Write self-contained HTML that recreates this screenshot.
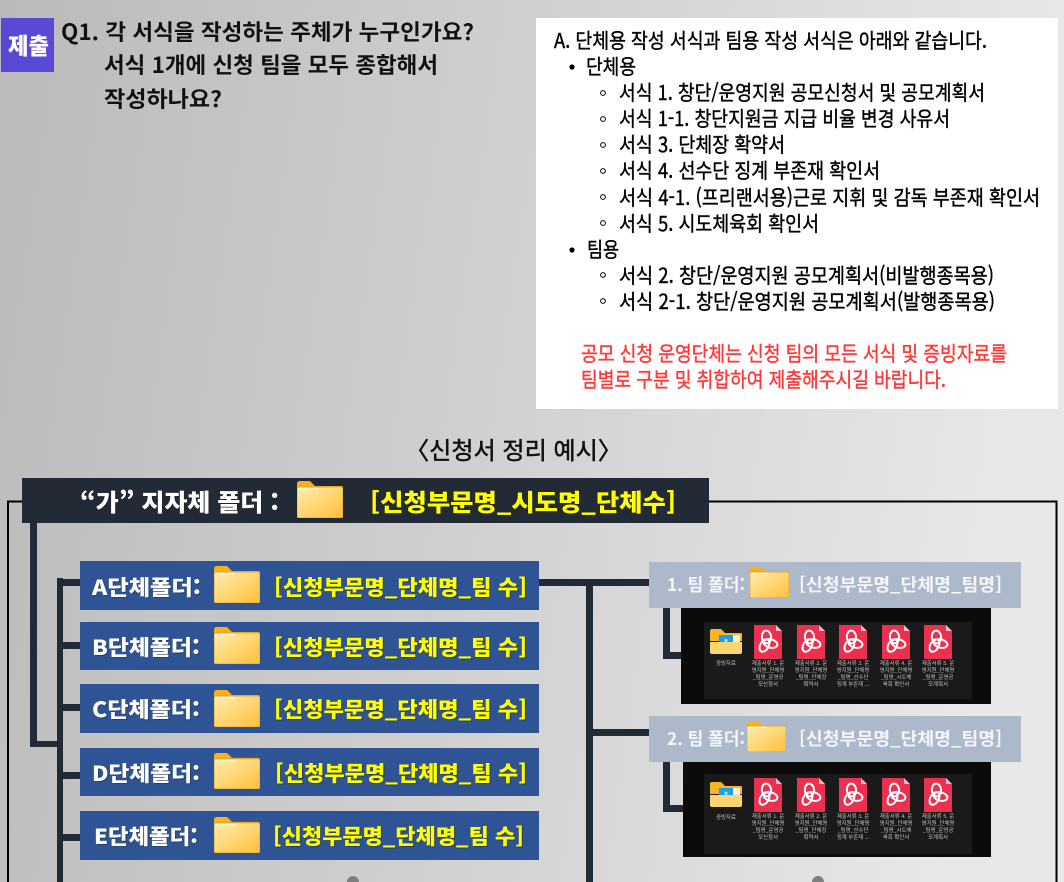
<!DOCTYPE html>
<html lang="ko"><head><meta charset="utf-8"><title>신청서 정리 예시</title>
<style>
html,body{margin:0;padding:0;width:1064px;height:882px;overflow:hidden;background:#ccc}
svg{display:block;position:absolute;left:0;top:0}
text{font-family:"Liberation Sans","Noto Sans CJK KR",sans-serif}
.q{font-size:22px;font-weight:700;fill:#111;font-family:"Noto Sans CJK KR","Liberation Sans",sans-serif}
.a{font-size:20.5px;fill:#000;stroke:#000;stroke-width:.4px;font-family:"Noto Sans CJK KR","Liberation Sans",sans-serif}
.r{font-size:20.5px;fill:#ff3838;stroke:#ff3838;stroke-width:.4px;font-family:"Noto Sans CJK KR","Liberation Sans",sans-serif}
.y{font-weight:900;fill:#ffff00;filter:drop-shadow(1px 1px 0 rgba(30,30,30,.45));font-family:"Noto Sans CJK KR","Liberation Sans",sans-serif}
.w{font-weight:900;fill:#fff;filter:drop-shadow(1px 1px 0 rgba(30,30,30,.35));font-family:"Noto Sans CJK KR","Liberation Sans",sans-serif}
.t{font-size:17.5px;font-weight:700;fill:#f4f6fa;font-family:"Noto Sans CJK KR","Liberation Sans",sans-serif}
.f{font-size:5.4px;fill:#c4c4c4;text-anchor:middle;font-family:"Noto Sans CJK KR","Liberation Sans",sans-serif}
</style></head><body>
<svg width="1064" height="882" viewBox="0 0 1064 882" xmlns="http://www.w3.org/2000/svg">
<defs>
<linearGradient id="bg" x1="0" y1="0" x2="1" y2="0.12"><stop offset="0" stop-color="#bababa"/><stop offset=".5" stop-color="#d0d0d0"/><stop offset="1" stop-color="#e8e8e8"/></linearGradient>
<linearGradient id="ff" x1="0" y1="0" x2="1" y2="1"><stop offset="0" stop-color="#ffeeb0"/><stop offset="1" stop-color="#fdbf38"/></linearGradient>
<symbol id="folder" viewBox="0 0 46 37" preserveAspectRatio="none">
<path d="M0 3Q0 0 3 0H13L18 5H44Q46 5 46 7V12H0Z" fill="#fbb116"/>
<rect x="0" y="6" width="46" height="31" rx="2" fill="url(#ff)" stroke="#dc9a2c" stroke-width=".8"/>
<rect x="1" y="7" width="20" height="1.4" fill="#fff7da"/>
</symbol>
<symbol id="sf" viewBox="0 0 32 25" preserveAspectRatio="none">
<path d="M0 2Q0 0 2 0H11L15 4H31Q32 4 32 5V12H0Z" fill="#f6b42a"/>
<rect x="9" y="6" width="21" height="8" fill="#fff3cf"/>
<rect x="9" y="6" width="14" height="11" fill="#18a0ea"/>
<text x="16" y="13" font-size="5" fill="#cdefff" text-anchor="middle">★</text>
<path d="M0 13H32V23Q32 25 30 25H2Q0 25 0 23Z" fill="#fbd56f"/>
</symbol>
<symbol id="pdf" viewBox="0 0 28 34">
<path d="M0 0H22L28 6V34H0Z" fill="#ec3050"/>
<path d="M22 0L28 6H22Z" fill="#f7b9c4"/>
<g fill="none" stroke="#fff" stroke-width="2">
<ellipse cx="12.5" cy="12" rx="4.6" ry="6.4" transform="rotate(-6 12.5 12)"/>
<ellipse cx="16.5" cy="18.5" rx="7" ry="4.2" transform="rotate(14 16.5 18.5)"/>
<ellipse cx="10.5" cy="20.5" rx="4.2" ry="6.8" transform="rotate(30 10.5 20.5)"/>
</g>
</symbol>
</defs>
<rect width="1064" height="882" fill="url(#bg)"/>

<!-- Header -->
<rect x="1" y="18" width="53" height="54" fill="#5a48d6"/>
<text x="8" y="54" font-size="23" font-weight="900" style="fill:#fff" textLength="41" lengthAdjust="spacingAndGlyphs">제출</text>
<text class="q" x="61" y="40" textLength="413" lengthAdjust="spacingAndGlyphs">Q1. 각 서식을 작성하는 주체가 누구인가요?</text>
<text class="q" x="104" y="73" textLength="334" lengthAdjust="spacingAndGlyphs">서식 1개에 신청 팀을 모두 종합해서</text>
<text class="q" x="104" y="107" textLength="118" lengthAdjust="spacingAndGlyphs">작성하나요?</text>

<!-- Answer box -->
<rect x="536" y="18" width="522" height="391" fill="#fff"/>
<text class="a" x="554" y="48" textLength="433" lengthAdjust="spacingAndGlyphs">A. 단체용 작성 서식과 팀용 작성 서식은 아래와 같습니다.</text>
<circle cx="572" cy="67" r="2.6" fill="#000"/>
<text class="a" x="586" y="74" textLength="50" lengthAdjust="spacingAndGlyphs">단체용</text>
<g fill="none" stroke="#000" stroke-width="1">
<circle cx="603" cy="93" r="2.4"/><circle cx="603" cy="119" r="2.4"/><circle cx="603" cy="145" r="2.4"/><circle cx="603" cy="171" r="2.4"/><circle cx="603" cy="197" r="2.4"/><circle cx="603" cy="223" r="2.4"/><circle cx="603" cy="275" r="2.4"/><circle cx="603" cy="301" r="2.4"/>
</g>
<text class="a" x="619" y="100" textLength="366" lengthAdjust="spacingAndGlyphs">서식 1. 창단/운영지원 공모신청서 및 공모계획서</text>
<text class="a" x="619" y="126" textLength="331" lengthAdjust="spacingAndGlyphs">서식 1-1. 창단지원금 지급 비율 변경 사유서</text>
<text class="a" x="619" y="152" textLength="166" lengthAdjust="spacingAndGlyphs">서식 3. 단체장 확약서</text>
<text class="a" x="619" y="178" textLength="261" lengthAdjust="spacingAndGlyphs">서식 4. 선수단 징계 부존재 확인서</text>
<text class="a" x="619" y="205" textLength="421" lengthAdjust="spacingAndGlyphs">서식 4-1. (프리랜서용)근로 지휘 및 감독 부존재 확인서</text>
<text class="a" x="619" y="231" textLength="200" lengthAdjust="spacingAndGlyphs">서식 5. 시도체육회 확인서</text>
<circle cx="572" cy="250" r="2.6" fill="#000"/>
<text class="a" x="587" y="257" textLength="32" lengthAdjust="spacingAndGlyphs">팀용</text>
<text class="a" x="619" y="283" textLength="375" lengthAdjust="spacingAndGlyphs">서식 2. 창단/운영지원 공모계획서(비발행종목용)</text>
<text class="a" x="619" y="309" textLength="376" lengthAdjust="spacingAndGlyphs">서식 2-1. 창단/운영지원 공모계획서(발행종목용)</text>
<text class="r" x="581" y="361" textLength="426" lengthAdjust="spacingAndGlyphs">공모 신청 운영단체는 신청 팀의 모든 서식 및 증빙자료를</text>
<text class="r" x="581" y="387" textLength="365" lengthAdjust="spacingAndGlyphs">팀별로 구분 및 취합하여 제출해주시길 바랍니다.</text>

<text x="405" y="459" font-size="24" fill="#111" stroke="#111" stroke-width=".5" textLength="217" lengthAdjust="spacingAndGlyphs">〈신청서 정리 예시〉</text>

<!-- Frame -->
<path d="M8 882V501.5H1056.5V882" fill="none" stroke="#000" stroke-width="2"/>

<!-- Connectors -->
<g fill="#222a35">
<rect x="30" y="520" width="7" height="227"/>
<rect x="30" y="741" width="33" height="6"/>
<rect x="57" y="578" width="6" height="304"/>
<rect x="57" y="579" width="25" height="7"/>
<rect x="57" y="642" width="25" height="7"/>
<rect x="57" y="704" width="25" height="7"/>
<rect x="57" y="772" width="25" height="7"/>
<rect x="57" y="834" width="25" height="7"/>
<rect x="539" y="579" width="112" height="7"/>
<rect x="586" y="579" width="7" height="303"/>
<rect x="586" y="729" width="65" height="7"/>
<rect x="663" y="606" width="7" height="53"/>
<rect x="663" y="652" width="20" height="7"/>
<rect x="663" y="760" width="7" height="52"/>
<rect x="663" y="805" width="22" height="7"/>
</g>

<!-- Top bar -->
<rect x="22" y="478" width="687" height="45" fill="#222a35"/>
<text class="w" x="80" y="511" font-size="24" textLength="199" lengthAdjust="spacingAndGlyphs">“가” 지자체 폴더 :</text>
<use href="#folder" x="297" y="481" width="46" height="37"/>
<text class="y" x="370" y="511" font-size="24" textLength="306" lengthAdjust="spacingAndGlyphs">[신청부문명_시도명_단체수]</text>

<!-- Org bars -->
<g fill="#2f5496">
<rect x="80" y="561" width="459" height="49"/>
<rect x="80" y="622" width="459" height="48"/>
<rect x="80" y="684" width="459" height="49"/>
<rect x="80" y="748" width="459" height="48"/>
<rect x="80" y="811" width="459" height="49"/>
</g>
<g font-size="21">
<text class="w" x="92" y="595" textLength="109" lengthAdjust="spacingAndGlyphs">A단체폴더:</text>
<text class="w" x="92" y="655" textLength="108" lengthAdjust="spacingAndGlyphs">B단체폴더:</text>
<text class="w" x="92" y="717" textLength="108" lengthAdjust="spacingAndGlyphs">C단체폴더:</text>
<text class="w" x="92" y="781" textLength="108" lengthAdjust="spacingAndGlyphs">D단체폴더:</text>
<text class="w" x="94" y="844" textLength="104" lengthAdjust="spacingAndGlyphs">E단체폴더:</text>
<text class="y" x="274" y="595" textLength="253" lengthAdjust="spacingAndGlyphs">[신청부문명_단체명_팀 수]</text>
<text class="y" x="274" y="655" textLength="253" lengthAdjust="spacingAndGlyphs">[신청부문명_단체명_팀 수]</text>
<text class="y" x="274" y="717" textLength="253" lengthAdjust="spacingAndGlyphs">[신청부문명_단체명_팀 수]</text>
<text class="y" x="275" y="781" textLength="252" lengthAdjust="spacingAndGlyphs">[신청부문명_단체명_팀 수]</text>
<text class="y" x="273" y="844" textLength="251" lengthAdjust="spacingAndGlyphs">[신청부문명_단체명_팀 수]</text>
</g>
<use href="#folder" x="214" y="566" width="46" height="37"/>
<use href="#folder" x="214" y="627" width="46" height="37"/>
<use href="#folder" x="214" y="690" width="46" height="37"/>
<use href="#folder" x="214" y="753" width="46" height="36"/>
<use href="#folder" x="214" y="817" width="46" height="36"/>

<!-- Team 1 -->
<rect x="681" y="608" width="310" height="96" fill="#0b0b0b"/>
<rect x="704" y="622" width="268" height="77" fill="#1a1a1a"/>
<rect x="649" y="562" width="372" height="46" fill="#adb9ca"/>
<text class="t" x="667" y="591" textLength="78" lengthAdjust="spacingAndGlyphs">1. 팀 폴더:</text>
<use href="#folder" x="750" y="567" width="39" height="31"/>
<text class="t" x="799" y="591" textLength="203" lengthAdjust="spacingAndGlyphs">[신청부문명_단체명_팀명]</text>
<use href="#sf" x="710" y="629" width="32" height="25"/>
<use href="#pdf" x="754" y="625" width="28" height="34"/>
<use href="#pdf" x="797" y="625" width="28" height="34"/>
<use href="#pdf" x="839" y="625" width="28" height="34"/>
<use href="#pdf" x="882" y="625" width="28" height="34"/>
<use href="#pdf" x="924" y="625" width="28" height="34"/>
<g class="f">
<text class="f" x="726" y="665">증빙자료</text>
<text class="f" x="768" y="665">제출서류 1. 운</text><text class="f" x="768" y="672">영지원_단체명</text><text class="f" x="768" y="679">_팀명_운영공</text><text class="f" x="768" y="686">모신청서</text>
<text class="f" x="811" y="665">제출서류 2. 운</text><text class="f" x="811" y="672">영지원_단체명</text><text class="f" x="811" y="679">_팀명_단체장</text><text class="f" x="811" y="686">확약서</text>
<text class="f" x="853" y="665">제출서류 3. 운</text><text class="f" x="853" y="672">영지원_단체명</text><text class="f" x="853" y="679">_팀명_선수단</text><text class="f" x="853" y="686">징계 부존재 ...</text>
<text class="f" x="896" y="665">제출서류 4. 운</text><text class="f" x="896" y="672">영지원_단체명</text><text class="f" x="896" y="679">_팀명_시도체</text><text class="f" x="896" y="686">육회 확인서</text>
<text class="f" x="938" y="665">제출서류 5. 운</text><text class="f" x="938" y="672">영지원_단체명</text><text class="f" x="938" y="679">_팀명_운영공</text><text class="f" x="938" y="686">모계획서</text>
</g>

<!-- Team 2 -->
<rect x="683" y="762" width="308" height="95" fill="#0b0b0b"/>
<rect x="704" y="774" width="268" height="80" fill="#1a1a1a"/>
<rect x="649" y="716" width="372" height="46" fill="#adb9ca"/>
<text class="t" x="667" y="745" textLength="78" lengthAdjust="spacingAndGlyphs">2. 팀 폴더:</text>
<use href="#folder" x="747" y="721" width="39" height="31"/>
<text class="t" x="799" y="745" textLength="203" lengthAdjust="spacingAndGlyphs">[신청부문명_단체명_팀명]</text>
<use href="#sf" x="710" y="782" width="32" height="25"/>
<use href="#pdf" x="754" y="778" width="28" height="34"/>
<use href="#pdf" x="797" y="778" width="28" height="34"/>
<use href="#pdf" x="839" y="778" width="28" height="34"/>
<use href="#pdf" x="882" y="778" width="28" height="34"/>
<use href="#pdf" x="924" y="778" width="28" height="34"/>
<g class="f">
<text class="f" x="726" y="819">증빙자료</text>
<text class="f" x="768" y="818">제출서류 1. 운</text><text class="f" x="768" y="825">영지원_단체명</text><text class="f" x="768" y="832">_팀명_운영공</text><text class="f" x="768" y="839">모신청서</text>
<text class="f" x="811" y="818">제출서류 2. 운</text><text class="f" x="811" y="825">영지원_단체명</text><text class="f" x="811" y="832">_팀명_단체장</text><text class="f" x="811" y="839">확약서</text>
<text class="f" x="853" y="818">제출서류 3. 운</text><text class="f" x="853" y="825">영지원_단체명</text><text class="f" x="853" y="832">_팀명_선수단</text><text class="f" x="853" y="839">징계 부존재 ...</text>
<text class="f" x="896" y="818">제출서류 4. 운</text><text class="f" x="896" y="825">영지원_단체명</text><text class="f" x="896" y="832">_팀명_시도체</text><text class="f" x="896" y="839">육회 확인서</text>
<text class="f" x="938" y="818">제출서류 5. 운</text><text class="f" x="938" y="825">영지원_단체명</text><text class="f" x="938" y="832">_팀명_운영공</text><text class="f" x="938" y="839">모계획서</text>
</g>

<!-- Dots cut at bottom -->
<circle cx="353" cy="882" r="6" fill="#7f7f7f"/>
<circle cx="818" cy="882" r="6" fill="#7f7f7f"/>
</svg>
</body></html>
